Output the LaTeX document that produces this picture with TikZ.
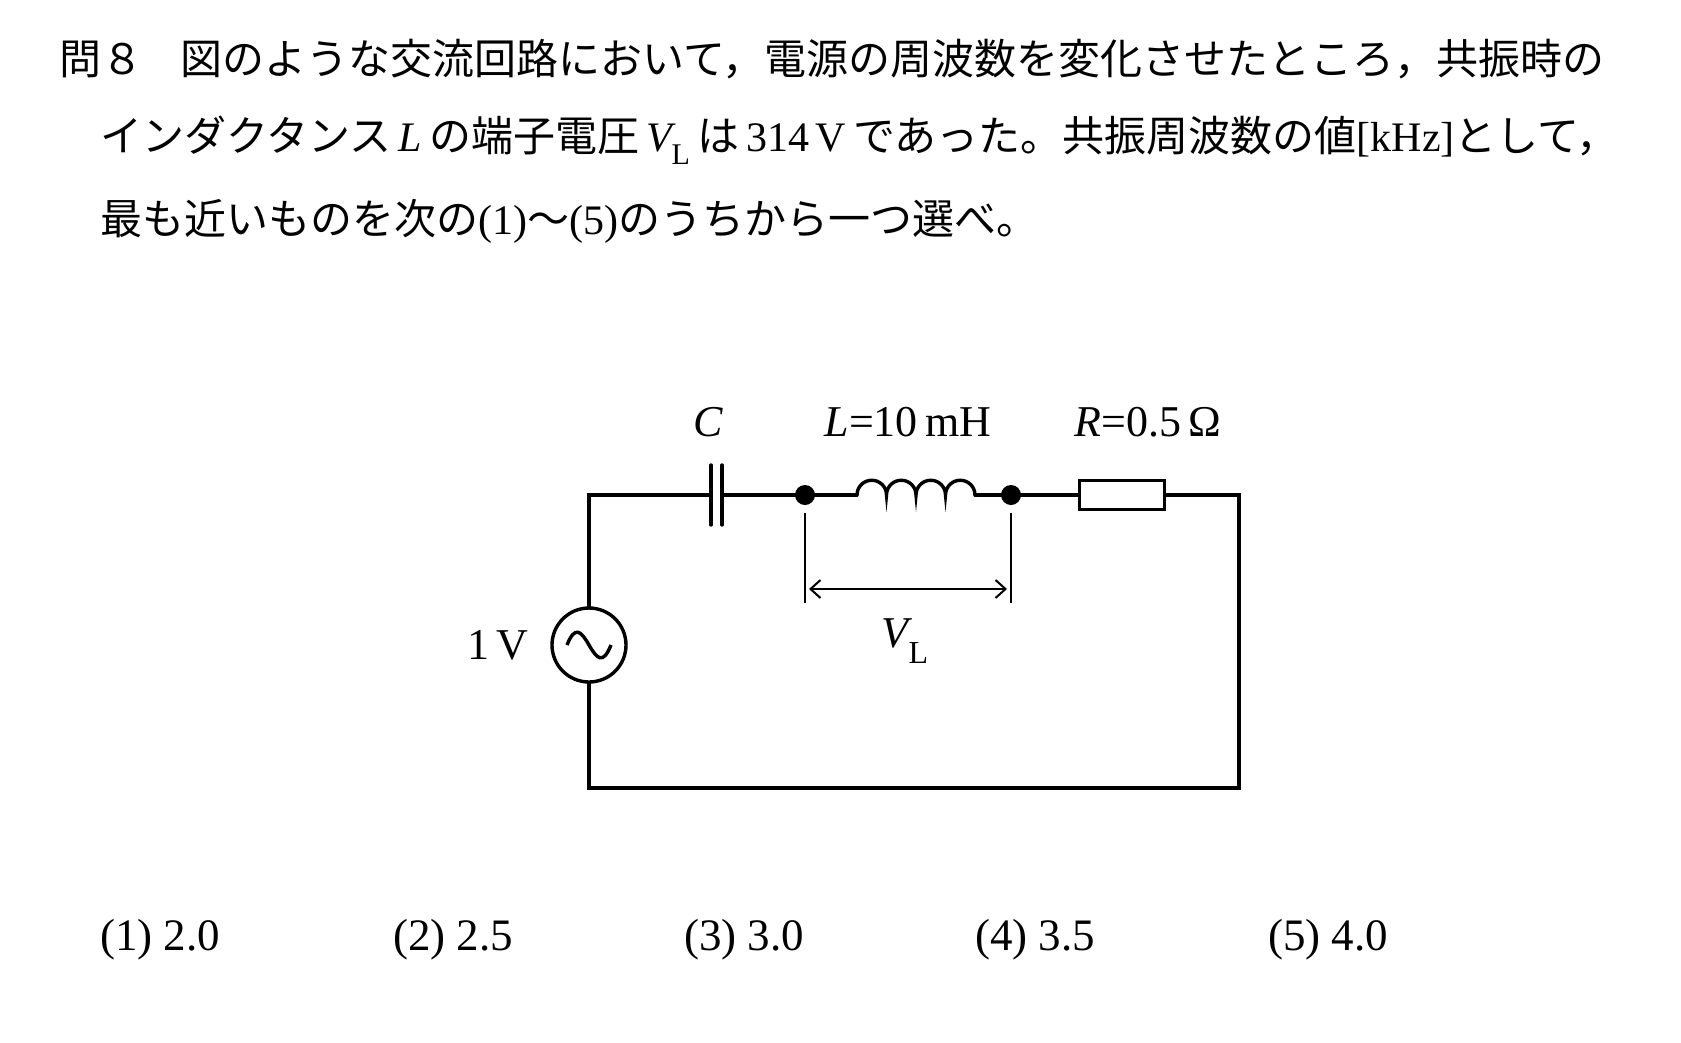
\documentclass[tikz,border=0pt]{standalone}
\usepackage{fontspec}
\setmainfont{Liberation Serif}
\newfontfamily\jp{Noto Sans CJK JP}
\usetikzlibrary{arrows.meta}
\begin{document}
\begin{tikzpicture}[x=1pt,y=-1pt,
  wire/.style={line width=3.4pt,line cap=round},
  thin/.style={line width=2pt},
  txt/.style={inner sep=0pt,anchor=west,font=\fontsize{42}{50}\selectfont},
  ch/.style={inner sep=0pt,anchor=west,font=\fontsize{45}{50}\selectfont},
  lbl/.style={inner sep=0pt,font=\fontsize{44}{50}\selectfont}]
\useasboundingbox[fill=white] (0,0) rectangle (1681,1042);
% text
\node[txt] (t1) at (59,59) {\jp 問８\hspace{0.9em}図のような交流回路において，電源の周波数を変化させたところ，共振時の};
\node[txt] (t2) at (100,140) {\jp インダクタンス\,{\rmfamily\itshape L}\,の端子電圧\,{\rmfamily\itshape V}\raisebox{-0.3em}{\rmfamily\fontsize{30}{30}\selectfont L}\,は\,{\rmfamily 314\,V}\,であった。共振周波数の値{\rmfamily[kHz]}として，};
\node[txt] (t3) at (100,221) {\jp 最も近いものを次の{\rmfamily(1)}～{\rmfamily(5)}のうちから一つ選べ。};
% choices
\node[ch] (c1) at (100,940) {(1) 2.0};
\node[ch] (c2) at (393,940) {(2) 2.5};
\node[ch] (c3) at (684,940) {(3) 3.0};
\node[ch] (c4) at (975,940) {(4) 3.5};
\node[ch] (c5) at (1268,940) {(5) 4.0};
% circuit coordinates
\coordinate (tl) at (589,495);
\coordinate (tr) at (1239,495);
\coordinate (bl) at (589,788);
\coordinate (br) at (1239,788);
\coordinate (c1l) at (711,495);
\coordinate (c2r) at (722,495);
\coordinate (d1) at (805,495);
\coordinate (d2) at (1011,495);
\coordinate (l1) at (857,495);
\coordinate (l2) at (975,495);
\node[draw,line width=3.4pt,minimum width=85pt,minimum height=29pt,inner sep=0pt] (R) at (1122,495) {};
\node[draw,circle,line width=3.4pt,minimum size=74pt,inner sep=0pt] (S) at (589,645) {};
\draw[line width=3.4pt] ([xshift=-22pt]S.center) .. controls +(8,-20) and +(-8,-14) .. (S.center) .. controls +(8,14) and +(-8,20) .. ([xshift=22pt]S.center);
% wires
\draw[wire] (S.north) -- (tl) -- (c1l);
\draw[wire] (711,465) -- (711,525);
\draw[wire] (722,465) -- (722,525);
\draw[wire] (c2r) -- (l1);
\draw[wire] (l1) \foreach \i in {0,1,2,3} {arc[start angle=180,end angle=360,radius=14.75]};
\draw[wire] (l2) -- (R.west);
\draw[wire] (R.east) -- (tr) -- (br) -- (bl) -- (S.south);
\fill (d1) circle (10);
\fill (d2) circle (10);
% measurement
\draw[thin] (805,513) -- (805,603);
\draw[thin] (1011,513) -- (1011,603);
\draw[thin,{Straight Barb[length=10pt,width=18pt,line width=2pt]}-{Straight Barb[length=10pt,width=18pt,line width=2pt]}] (809,589) -- (1007,589);
% labels
\node[lbl] (VL) at (905,641) {\itshape V\raisebox{-0.35em}{\upshape\fontsize{32}{32}\selectfont L}};
\node[lbl] (lc) at (708,422) {\itshape C};
\node[lbl] (lL) at (908,422) {\itshape L\upshape{=}10\,mH};
\node[lbl] (lR) at (1148,422) {\itshape R\upshape{=}0.5\,Ω};
\node[lbl] (lV) at (498,645) {1\,V};
\end{tikzpicture}
\end{document}
